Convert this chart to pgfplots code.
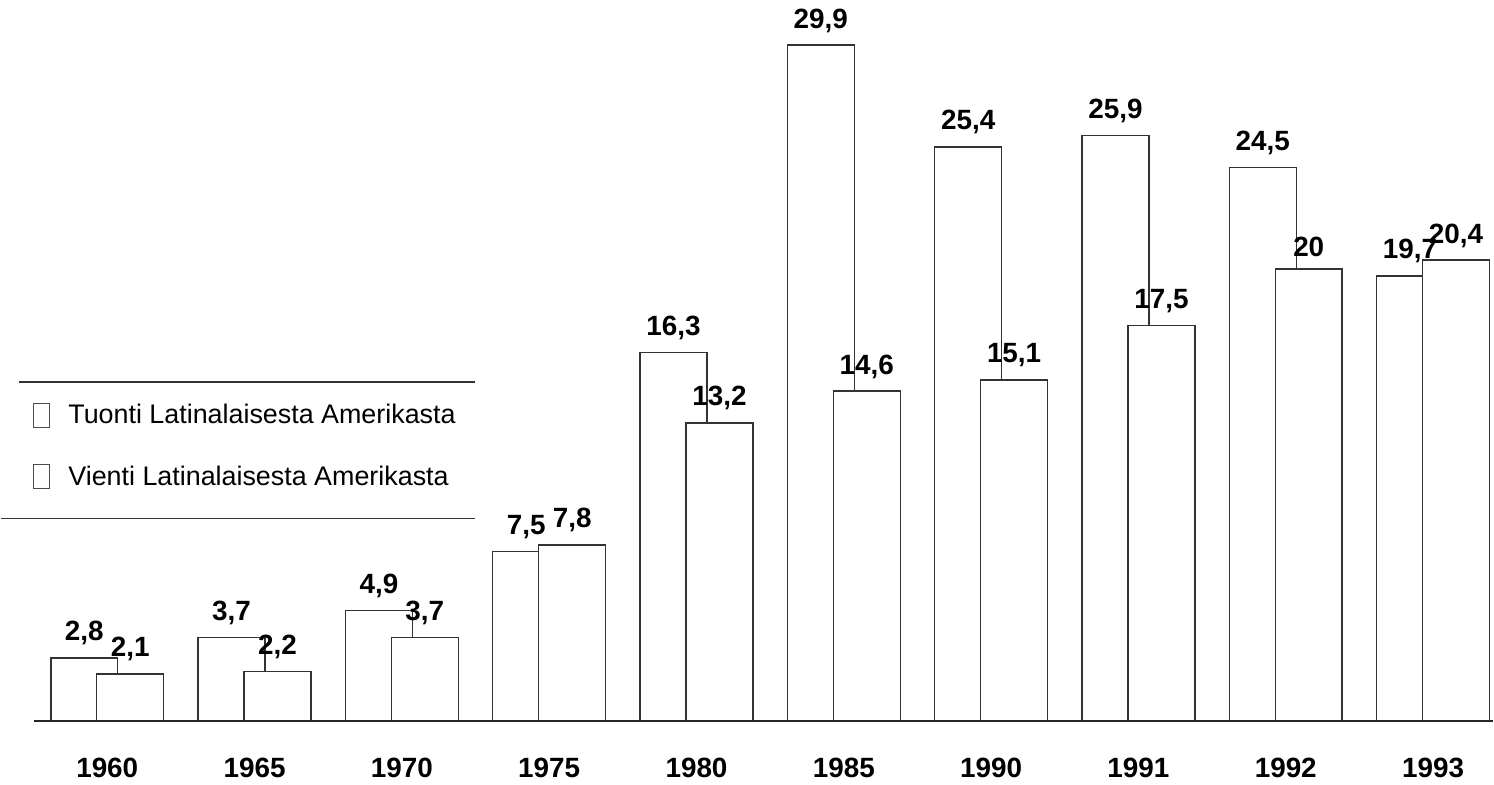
\documentclass[border=0pt]{standalone}
\usepackage{pgfplots}
\pgfplotsset{compat=1.18}
\usepackage{fontspec}
\setmainfont{Liberation Sans}
\begin{document}
\begin{tikzpicture}
\begin{axis}[
  scale only axis, width=747bp, height=392bp,
  xmin=-0.722, xmax=9.407, ymin=-2.739, ymax=31.89,
  axis line style={draw=none}, major tick length=0pt,
  ytick=\empty, xtick={0,...,9},
  xticklabels={1960,1965,1970,1975,1980,1985,1990,1991,1992,1993},
  xticklabel style={font=\fontsize{14}{15}\selectfont\bfseries, yshift=16bp},
  ybar, bar width=0.454,
  clip=false,
  nodes near coords,
  every node near coord/.append style={font=\fontsize{14}{15}\selectfont\bfseries, inner sep=2bp, yshift=4bp, text=black},
  legend image code/.code={\draw[black!70, line width=0.6pt, fill=white] (0bp,-6bp) rectangle (8bp,6bp);},
  legend style={draw=none, fill=none, at={(0.0214,0.486)}, anchor=north west,
    font=\fontsize{13.5}{15}\selectfont, inner sep=0pt, row sep=18bp, column sep=9bp,
    nodes={inner sep=0pt, anchor=west}},
  legend cell align=left,
  /pgf/number format/.cd, use comma, 1000 sep={}, assume math mode=true
]
\addplot[draw=black!80, fill=white, line width=0.7pt, bar shift=-0.156]
  coordinates {(0,2.8) (1,3.7) (2,4.9) (3,7.5) (4,16.3) (5,29.9) (6,25.4) (7,25.9) (8,24.5) (9,19.7)};
\addlegendentry{Tuonti Latinalaisesta Amerikasta}
\addplot[draw=black!80, fill=white, line width=0.7pt, bar shift=0.156]
  coordinates {(0,2.1) (1,2.2) (2,3.7) (3,7.8) (4,13.2) (5,14.6) (6,15.1) (7,17.5) (8,20) (9,20.4)};
\addlegendentry{Vienti Latinalaisesta Amerikasta}
\draw[black!85, line width=1pt] (axis cs:-0.5,0) -- (axis cs:9.407,0);
\draw[black!80, line width=0.9pt] (axis cs:-0.6,15.02) -- (axis cs:2.498,15.02);
\draw[black!80, line width=0.9pt] (axis cs:-0.722,8.97) -- (axis cs:2.498,8.97);
\end{axis}
\end{tikzpicture}
\end{document}
